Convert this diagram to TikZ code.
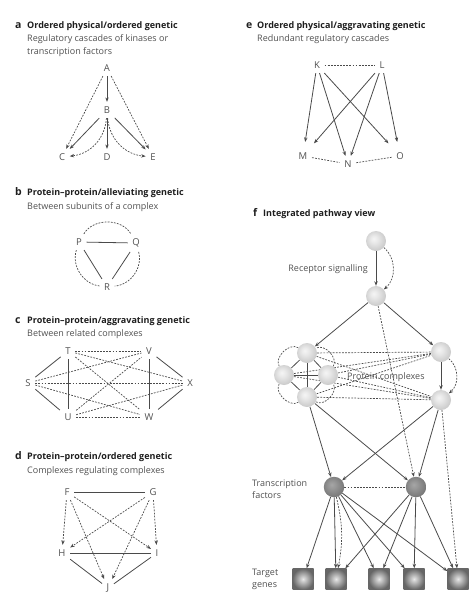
\documentclass[tikz,border=0pt]{standalone}
\usepackage{fontspec}
\setmainfont{Open Sans}
\usetikzlibrary{arrows.meta}
\pgfdeclarelayer{bg}
\pgfsetlayers{bg,main}
\definecolor{linegray}{HTML}{4A4A4A}
\definecolor{textgray}{HTML}{505050}
\definecolor{titlegray}{HTML}{1E1E1E}
\pgfdeclareradialshading{lightball}{\pgfpoint{-6bp}{6bp}}{color(0bp)=(gray!8); color(8bp)=(gray!16); color(30bp)=(gray!45); color(50bp)=(gray!95)}
\pgfdeclareradialshading{darkball}{\pgfpoint{-6bp}{6bp}}{color(0bp)=(gray!70); color(8bp)=(gray!80); color(30bp)=(black!55); color(50bp)=(black!75)}
\begin{document}
\begin{tikzpicture}[x=1pt,y=1pt,
		font=\fontsize{9}{12}\selectfont,
		letter/.style={text=textgray,inner sep=4.5pt,font=\fontsize{9.5}{12}\selectfont},
		paneltag/.style={anchor=base west,inner sep=0pt,text=titlegray,font=\fontsize{10.5}{12}\selectfont\bfseries},
		ttl/.style={anchor=base west,inner sep=0pt,text=titlegray,font=\fontsize{9}{12}\selectfont\bfseries},
		subttl/.style={anchor=base west,inner sep=0pt,text=textgray},
		solidln/.style={draw=linegray,line width=0.8pt},
		dashln/.style={draw=linegray,line width=0.7pt,dash pattern=on 1.8pt off 1.3pt},
		arr/.style={-{Stealth[length=4.5pt,width=3.4pt]}},
		protein/.style={circle,minimum size=20pt,inner sep=0pt,shading=lightball},
		factor/.style={circle,minimum size=20.5pt,inner sep=0pt,shading=darkball},
		genebox/.style={minimum size=21pt,inner sep=0pt,shading=radial,inner color=gray!18,outer color=black!60}]
		\useasboundingbox (0,0) rectangle (476,-600);
		
		% a
		\node[paneltag] (tagA) at (15,-28.5) {a};
		\node[ttl] (ttlA) at (27,-28.5) {Ordered physical/ordered genetic};
		\node[subttl] (subA) at (27,-41.7) {Regulatory cascades of kinases or};
		\node[subttl] (subA2) at (27,-54.5) {transcription factors};
		\node[letter] (A) at (107,-68) {A};
		\node[letter] (B) at (107,-110) {B};
		\node[letter] (C) at (62,-157) {C};
		\node[letter] (D) at (107,-157) {D};
		\node[letter] (E) at (153,-157) {E};
		\draw[solidln,arr] (A) -- (B);
		\draw[dashln,arr] (A) -- (C);
		\draw[dashln,arr] (A) -- (E);
		\draw[solidln,arr] (B) -- (C);
		\draw[solidln,arr] (B) -- (D);
		\draw[solidln,arr] (B) -- (E);
		\draw[dashln,arr] (B) to[bend left=40] (C);
		\draw[dashln,arr] (B) to[bend right=40] (E);
		
		% b
		\node[paneltag] (tagB) at (15,-195.7) {b};
		\node[ttl] (ttlB) at (27,-195.7) {Protein--protein/alleviating genetic};
		\node[subttl] (subB) at (27,-209) {Between subunits of a complex};
		\node[letter] (P) at (79,-242) {P};
		\node[letter] (Q) at (136,-243) {Q};
		\node[letter] (R) at (107,-287) {R};
		\draw[solidln] (P) -- (Q);
		\draw[solidln] (P) -- (R);
		\draw[solidln] (Q) -- (R);
		\draw[dashln] (P) to[bend left=60] (Q);
		\draw[dashln] (P) to[bend right=50] (R);
		\draw[dashln] (Q) to[bend left=50] (R);
		
		% c
		\node[paneltag] (tagC) at (15,-323.3) {c};
		\node[ttl] (ttlC) at (27,-323.3) {Protein--protein/aggravating genetic};
		\node[subttl] (subC) at (27,-336.5) {Between related complexes};
		\node[letter] (T) at (68,-351) {T};
		\node[letter] (V) at (149,-351) {V};
		\node[letter] (S) at (28,-383) {S};
		\node[letter] (X) at (190,-383) {X};
		\node[letter] (U) at (68,-417) {U};
		\node[letter] (W) at (149,-417) {W};
		\draw[solidln] (S) -- (T);
		\draw[solidln] (S) -- (U);
		\draw[solidln] (T) -- (U);
		\draw[solidln] (V) -- (W);
		\draw[solidln] (V) -- (X);
		\draw[solidln] (W) -- (X);
		\draw[dashln] (T) -- (V);
		\draw[dashln] (T) -- (X);
		\draw[dashln] (T) -- (W);
		\draw[dashln] (S) -- (V);
		\draw[dashln] (S) -- (X);
		\draw[dashln] (S) -- (W);
		\draw[dashln] (U) -- (V);
		\draw[dashln] (U) -- (X);
		\draw[dashln] (U) -- (W);
		
		% d
		\node[paneltag] (tagD) at (15,-459.3) {d};
		\node[ttl] (ttlD) at (27,-459.3) {Protein--protein/ordered genetic};
		\node[subttl] (subD) at (27,-473.3) {Complexes regulating complexes};
		\node[letter] (F) at (67,-492) {F};
		\node[letter] (G) at (153,-492) {G};
		\node[letter] (H) at (62,-553) {H};
		\node[letter] (I) at (157,-553) {I};
		\node[letter] (J) at (108,-588) {J};
		\draw[solidln] (F) -- (G);
		\draw[solidln] (H) -- (I);
		\draw[solidln] (H) -- (J);
		\draw[solidln] (I) -- (J);
		\draw[dashln,arr] (F) -- (H);
		\draw[dashln,arr] (F) -- (I);
		\draw[dashln,arr] (F) -- (J);
		\draw[dashln,arr] (G) -- (H);
		\draw[dashln,arr] (G) -- (I);
		\draw[dashln,arr] (G) -- (J);
		
		% e
		\node[paneltag] (tagE) at (246,-28.5) {e};
		\node[ttl] (ttlE) at (257,-28.5) {Ordered physical/aggravating genetic};
		\node[subttl] (subE) at (257,-41.7) {Redundant regulatory cascades};
		\node[letter] (K) at (317,-65) {K};
		\node[letter] (L) at (382,-65) {L};
		\node[letter] (M) at (303,-156) {M};
		\node[letter] (N) at (348,-164) {N};
		\node[letter] (O) at (400,-156) {O};
		\draw[dashln] (K) -- (L);
		\draw[dashln] (M) -- (N);
		\draw[dashln] (N) -- (O);
		\draw[solidln,arr,shorten >=6pt] (K) -- (M);
		\draw[solidln,arr] (K) -- (N);
		\draw[solidln,arr,shorten >=6pt] (K) -- (O);
		\draw[solidln,arr,shorten >=6pt] (L) -- (M);
		\draw[solidln,arr] (L) -- (N);
		\draw[solidln,arr,shorten >=6pt] (L) -- (O);
		
		% f
		\node[paneltag] (tagF) at (253,-216.7) {f};
		\node[ttl] (ttlF) at (263,-216.7) {Integrated pathway view};
		\node[subttl,anchor=base east] (sigtxt) at (368,-271.5) {Receptor signalling};
		\node[subttl] (cpxtxt) at (347,-379) {Protein complexes};
		\node[subttl] (tftxt) at (252,-486.7) {Transcription};
		\node[subttl] (tftxt2) at (252,-498.5) {factors};
		\node[subttl] (gtxt) at (252,-575) {Target};
		\node[subttl] (gtxt2) at (252,-587) {genes};
		\node[protein] (top) at (376,-241) {};
		\node[protein] (sig) at (376,-296) {};
		\node[protein] (cpxT) at (307,-353) {};
		\node[protein] (cpxL) at (284,-375) {};
		\node[protein] (cpxR) at (328,-375) {};
		\node[protein] (cpxB) at (307,-397) {};
		\node[protein] (pairT) at (441,-352) {};
		\node[protein] (pairB) at (441,-400) {};
		\node[factor] (tfA) at (334,-487) {};
		\node[factor] (tfB) at (416,-487) {};
		\node[genebox] (gA) at (303,-579) {};
		\node[genebox] (gB) at (336,-579) {};
		\node[genebox] (gC) at (379,-579) {};
		\node[genebox] (gD) at (414,-579) {};
		\node[genebox] (gE) at (458,-579) {};
		\begin{pgfonlayer}{bg}
			\draw[solidln,arr] (top) -- (sig);
			\draw[dashln,arr] (top) to[bend left=50] (sig);
			\draw[solidln,arr] (sig) -- (cpxT);
			\draw[solidln,arr] (sig) -- (pairT);
			\draw[dashln,arr] (sig) -- (tfB);
			\draw[solidln] (cpxT) -- (cpxB);
			\draw[solidln] (cpxL) -- (cpxR);
			\draw[solidln] (cpxT) -- (cpxL) -- (cpxB) -- (cpxR) -- (cpxT);
			\draw[dashln] (cpxT) to[bend right=75] (cpxL);
			\draw[dashln] (cpxL) to[bend right=75] (cpxB);
			\draw[dashln] (cpxB) to[bend right=75] (cpxR);
			\draw[dashln] (cpxR) to[bend right=75] (cpxT);
			\draw[solidln,arr] (pairT) -- (pairB);
			\draw[dashln,arr] (pairT) to[bend left=50] (pairB);
			\draw[dashln] (cpxT) -- (pairT);
			\draw[dashln] (cpxT) -- (pairB);
			\draw[dashln] (cpxL) -- (pairT);
			\draw[dashln] (cpxL) -- (pairB);
			\draw[dashln] (cpxR) -- (pairT);
			\draw[dashln] (cpxR) -- (pairB);
			\draw[dashln] (cpxB) -- (pairT);
			\draw[dashln] (cpxB) -- (pairB);
			\draw[solidln,arr] (cpxB) -- (tfA);
			\draw[solidln,arr] (cpxB) -- (tfB);
			\draw[solidln,arr] (pairB) -- (tfA);
			\draw[solidln,arr] (pairB) -- (tfB);
			\draw[dashln,arr] (pairB) -- (gE);
			\draw[dashln] (tfA) -- (tfB);
			\draw[solidln,arr] (tfA) -- (gA);
			\draw[solidln,arr] (tfA) -- (gB);
			\draw[dashln,arr] (tfA) to[bend left=12] (gB);
			\draw[solidln,arr] (tfA) -- (gC);
			\draw[solidln,arr] (tfA) -- (gD);
			\draw[solidln,arr] (tfA) -- (gE);
			\draw[solidln,arr] (tfB) -- (gB);
			\draw[solidln,arr] (tfB) -- (gC);
			\draw[solidln,arr] (tfB) -- (gD);
			\draw[solidln,arr] (tfB) -- (gE);
		\end{pgfonlayer}
	\end{tikzpicture}
\end{document}
